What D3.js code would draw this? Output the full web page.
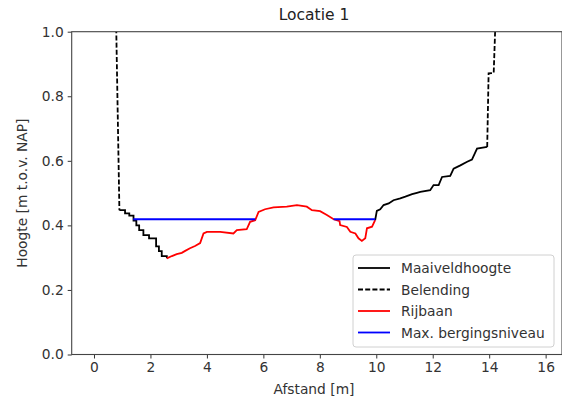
<!DOCTYPE html>
<html>
<head>
<meta charset="utf-8">
<script src="https://cdn.jsdelivr.net/npm/d3@7"></script>
<style>
  body { margin: 0; background: #fff; }
  svg { display: block; font-family: "DejaVu Sans", sans-serif; }
</style>
</head>
<body>
<div id="chart"></div>
<script>
// Maaiveldhoogte, left part (stepped)
const groundLeftX = [0.90, 1.10, 1.25, 1.40, 1.50, 1.60, 1.75, 1.95, 2.20, 2.30, 2.40, 2.58];
const groundLeftY = [0.447, 0.437, 0.430, 0.415, 0.400, 0.385, 0.370, 0.360, 0.335, 0.320, 0.305, 0.298];

// Rijbaan
const roadX = [2.58, 2.76, 2.93, 3.11, 3.23, 3.40, 3.58, 3.76, 3.88, 4.00, 4.47, 4.94, 5.06, 5.41, 5.53, 5.71, 5.83, 6.06, 6.36, 6.83, 7.19, 7.54, 7.72, 8.01, 8.25, 8.49, 8.70, 8.72, 8.96, 9.08, 9.26, 9.37, 9.49, 9.61, 9.67, 9.85, 9.96];
const roadY = [0.298, 0.305, 0.311, 0.315, 0.321, 0.329, 0.336, 0.345, 0.375, 0.380, 0.380, 0.375, 0.385, 0.388, 0.411, 0.416, 0.442, 0.450, 0.456, 0.458, 0.463, 0.458, 0.447, 0.444, 0.432, 0.419, 0.413, 0.401, 0.395, 0.380, 0.375, 0.360, 0.352, 0.360, 0.391, 0.396, 0.416];

// Maaiveldhoogte, right part
const groundRightX = [9.96, 10.02, 10.14, 10.26, 10.44, 10.61, 10.85, 11.03, 11.27, 11.44, 11.56, 11.91, 12.03, 12.21, 12.33, 12.62, 12.74, 12.98, 13.22, 13.39, 13.57, 13.93];
const groundRightY = [0.416, 0.445, 0.450, 0.463, 0.468, 0.478, 0.484, 0.489, 0.497, 0.501, 0.504, 0.509, 0.525, 0.525, 0.550, 0.553, 0.576, 0.586, 0.597, 0.604, 0.638, 0.643];

// Belending (dashed)
const borderLeftX = [0.77, 0.90];
const borderLeftY = [1.10, 0.447];
const borderRightX = [13.93, 13.98, 14.16, 14.25];
const borderRightY = [0.643, 0.871, 0.872, 1.10];

// Max. bergingsniveau
const storageLevel = 0.419;
const storageRanges = [[1.39, 5.71], [8.49, 9.96]];

const xTicks = [0, 2, 4, 6, 8, 10, 12, 14, 16];
const yTicks = [0.0, 0.2, 0.4, 0.6, 0.8, 1.0];

const legendItems = [
  { label: 'Maaiveldhoogte', color: '#000', dash: null },
  { label: 'Belending', color: '#000', dash: '5,2.2' },
  { label: 'Rijbaan', color: '#ff0000', dash: null },
  { label: 'Max. bergingsniveau', color: '#0000ff', dash: null }
];

const width = 562, height = 404;
const plot = { left: 71.7, right: 562, top: 31.7, bottom: 354.5 };
const fontSize = '13.8px';
const lw = 1.8;

const svg = d3.select('#chart')
  .append('svg')
  .attr('width', width)
  .attr('height', height);

const x = d3.scaleLinear().domain([-0.79, 16.58]).range([plot.left, plot.right]);
const y = d3.scaleLinear().domain([0, 1]).range([plot.bottom, plot.top]);

svg.append('clipPath').attr('id', 'clip')
  .append('rect')
  .attr('x', plot.left).attr('y', plot.top)
  .attr('width', plot.right - plot.left).attr('height', plot.bottom - plot.top);

const zip = (xs, ys) => xs.map((v, i) => [v, ys[i]]);
const line = d3.line().x(d => x(d[0])).y(d => y(d[1]));
const stepLine = d3.line().x(d => x(d[0])).y(d => y(d[1])).curve(d3.curveStepAfter);

const g = svg.append('g').attr('clip-path', 'url(#clip)');

// dashed borders
[zip(borderLeftX, borderLeftY), zip(borderRightX, borderRightY)].forEach(pts => {
  g.append('path')
    .attr('d', line(pts))
    .attr('fill', 'none')
    .attr('stroke', '#000')
    .attr('stroke-width', lw)
    .attr('stroke-dasharray', '5,2.2');
});

// ground
g.append('path')
  .attr('d', stepLine(zip(groundLeftX, groundLeftY)))
  .attr('fill', 'none').attr('stroke', '#000').attr('stroke-width', lw);
g.append('path')
  .attr('d', line(zip(groundRightX, groundRightY)))
  .attr('fill', 'none').attr('stroke', '#000').attr('stroke-width', lw);

// road
g.append('path')
  .attr('d', line(zip(roadX, roadY)))
  .attr('fill', 'none').attr('stroke', '#ff0000').attr('stroke-width', lw);

// storage level
storageRanges.forEach(r => {
  g.append('path')
    .attr('d', line(r.map(v => [v, storageLevel])))
    .attr('fill', 'none').attr('stroke', '#0000ff').attr('stroke-width', lw);
});

// axes
const xAxis = svg.append('g')
  .attr('transform', `translate(0,${plot.bottom})`)
  .call(d3.axisBottom(x).tickValues(xTicks).tickSize(4).tickPadding(4).tickFormat(d3.format('d')));
const yAxis = svg.append('g')
  .attr('transform', `translate(${plot.left},0)`)
  .call(d3.axisLeft(y).tickValues(yTicks).tickSize(4).tickPadding(4).tickFormat(d3.format('.1f')));

[xAxis, yAxis].forEach(a => {
  a.select('.domain').remove();
  a.selectAll('line').attr('stroke', '#333');
  a.selectAll('text').style('font-size', fontSize).style('fill', '#333')
    .style('font-family', '"DejaVu Sans", sans-serif');
});

// spines
svg.append('rect')
  .attr('x', plot.left).attr('y', plot.top)
  .attr('width', plot.right - plot.left).attr('height', plot.bottom - plot.top)
  .attr('fill', 'none').attr('stroke', '#444').attr('stroke-width', 1.1);

// title and labels
svg.append('text')
  .attr('x', 314).attr('y', 20)
  .attr('text-anchor', 'middle')
  .style('font-size', '15.5px').style('fill', '#222')
  .text('Locatie 1');

svg.append('text')
  .attr('x', 314).attr('y', 394)
  .attr('text-anchor', 'middle')
  .style('font-size', fontSize).style('fill', '#333')
  .text('Afstand [m]');

svg.append('text')
  .attr('transform', `translate(27,${(plot.top + plot.bottom) / 2}) rotate(-90)`)
  .attr('text-anchor', 'middle')
  .style('font-size', fontSize).style('fill', '#333')
  .text('Hoogte [m t.o.v. NAP]');

// legend
const legend = svg.append('g').attr('transform', 'translate(353,255)');
legend.append('rect')
  .attr('width', 201).attr('height', 92).attr('rx', 3)
  .attr('fill', '#fff').attr('fill-opacity', 0.85)
  .attr('stroke', '#d0d0d0');

legend.selectAll('.item')
  .data(legendItems)
  .enter()
  .append('g')
  .attr('class', 'item')
  .attr('transform', (d, i) => `translate(0,${13 + i * 21.5})`)
  .each(function(d) {
    const item = d3.select(this);
    item.append('line')
      .attr('x1', 5).attr('x2', 37)
      .attr('stroke', d.color).attr('stroke-width', lw)
      .attr('stroke-dasharray', d.dash);
    item.append('text')
      .attr('x', 48).attr('y', 5)
      .style('font-size', fontSize).style('fill', '#333')
      .text(d.label);
  });
</script>
</body>
</html>
